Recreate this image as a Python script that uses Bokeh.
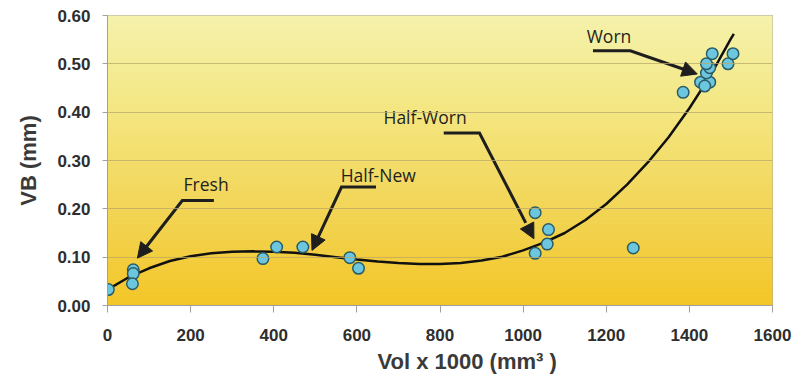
import numpy as np
from bokeh.plotting import figure
from bokeh.models import (Range1d, FixedTicker, PrintfTickFormatter, Arrow,
                          NormalHead, ColumnDataSource, Title)
from bokeh.core.properties import value
from bokeh.embed import file_html
from bokeh.resources import INLINE

# ---- data ----
vol = [2, 62, 62, 60, 374, 407, 470, 583, 604, 1029, 1061, 1058, 1029, 1265,
       1385, 1427, 1449, 1437, 1441, 1449, 1441, 1455, 1493, 1505]
vb = [0.033, 0.074, 0.066, 0.045, 0.097, 0.121, 0.121, 0.099, 0.077, 0.192,
      0.157, 0.127, 0.108, 0.119, 0.441, 0.462, 0.462, 0.454, 0.481, 0.492,
      0.500, 0.521, 0.500, 0.521]

# trend curve
trend_x = [0, 50, 100, 150, 200, 250, 300, 350, 400, 450, 500, 550, 600, 650,
           700, 750, 800, 850, 900, 950, 1000, 1050, 1100, 1150, 1200, 1250,
           1300, 1350, 1400, 1450, 1500, 1507]
trend_y = [0.033, 0.058, 0.077, 0.092, 0.102, 0.108, 0.111, 0.112, 0.111,
           0.109, 0.105, 0.100, 0.095, 0.091, 0.088, 0.086, 0.086, 0.088,
           0.093, 0.101, 0.114, 0.130, 0.150, 0.177, 0.210, 0.250, 0.296,
           0.348, 0.408, 0.475, 0.552, 0.562]

x_ticks = [0, 200, 400, 600, 800, 1000, 1200, 1400, 1600]
y_ticks = [0.0, 0.1, 0.2, 0.3, 0.4, 0.5, 0.6]
x_title = "Vol x 1000 (mm\u00b3 )"
y_title = "VB (mm)"

# annotations: label text, label anchor, arrow start, corner, tip
ann_text = ["Fresh", "Half-New", "Half-Worn", "Worn"]
ann_label_x = [183, 561, 664, 1153]
ann_label_y = [0.251, 0.269, 0.389, 0.557]
arr_start_x = [256, 646, 809, 1168]
arr_start_y = [0.217, 0.245, 0.357, 0.527]
arr_corner_x = [180, 563, 895, 1258]
arr_corner_y = [0.217, 0.245, 0.357, 0.527]
arr_tip_x = [72, 492, 1026, 1419]
arr_tip_y = [0.098, 0.114, 0.138, 0.479]

W, H = 799, 380
p = figure(width=W, height=H, output_backend="svg", toolbar_location=None,
           x_range=Range1d(0, 1600), y_range=Range1d(0, 0.6),
           min_border_left=107, min_border_right=27, min_border_top=15,
           min_border_bottom=75)
p.background_fill_color = "white"
p.border_fill_color = "white"
p.outline_line_color = "#a8a8a8"
p.outline_line_width = 1

# background vertical gradient (style only)
n = 145
edges = np.linspace(0, 0.6, n + 1)
stops_t = [0.0, 0.35, 0.7, 1.0]
stops_c = np.array([[243, 196, 34], [242, 213, 85], [243, 231, 130], [245, 241, 170]])
cols = []
for i in range(n):
    t = (i + 0.5) / n
    c = [np.interp(t, stops_t, stops_c[:, k]) for k in range(3)]
    cols.append("#%02x%02x%02x" % tuple(int(round(v)) for v in c))
p.quad(left=0, right=1600, bottom=edges[:-1], top=edges[1:], fill_color=cols,
       line_color=cols, line_width=0.6)

# grid
p.xgrid.grid_line_color = None
p.ygrid.ticker = FixedTicker(ticks=y_ticks)
p.ygrid.grid_line_color = "#b9a76a"
p.ygrid.grid_line_alpha = 0.75
p.ygrid.grid_line_width = 1
p.ygrid.level = "glyph"

# axes
p.xaxis.ticker = FixedTicker(ticks=x_ticks)
p.yaxis.ticker = FixedTicker(ticks=y_ticks)
p.yaxis.formatter = PrintfTickFormatter(format="%.2f")
for ax in (p.xaxis, p.yaxis):
    ax.axis_line_color = "#a0a0a0"
    ax.major_tick_line_color = "#a0a0a0"
    ax.minor_tick_line_color = None
    ax.major_tick_in = 0
    ax.major_label_text_font = "Liberation Sans"
    ax.major_label_text_font_style = "bold"
    ax.major_label_text_font_size = "17px"
    ax.major_label_text_color = "#2e2e2e"
p.xaxis.major_tick_out = 7
p.yaxis.major_tick_out = 5
p.xaxis.major_label_standoff = 16
p.yaxis.major_label_standoff = 12
p.yaxis.axis_label = y_title
p.yaxis.axis_label_text_font = "Liberation Sans"
p.yaxis.axis_label_text_font_style = "bold"
p.yaxis.axis_label_text_font_size = "22px"
p.yaxis.axis_label_text_color = "#3a3a3a"
p.yaxis.axis_label_standoff = 13

# x-axis title as a Title below the axis, offset to the right like the reference
p.add_layout(Title(text=x_title, align="left", offset=270, standoff=7,
                   text_font="Liberation Sans", text_font_style="bold",
                   text_font_size="22px", text_color="#3a3a3a"), "below")

# trend curve
p.line(trend_x, trend_y, line_color="#111111", line_width=2.5)

# arrows
xs, ys = [], []
for i in range(len(ann_text)):
    ex = arr_corner_x[i] + 0.85 * (arr_tip_x[i] - arr_corner_x[i])
    ey = arr_corner_y[i] + 0.85 * (arr_tip_y[i] - arr_corner_y[i])
    xs.append([arr_start_x[i], arr_corner_x[i], ex])
    ys.append([arr_start_y[i], arr_corner_y[i], ey])
    p.add_layout(Arrow(end=NormalHead(size=15, fill_color="#1e1e1e", line_color="#1e1e1e",
                                      line_width=1),
                       x_start=arr_corner_x[i], y_start=arr_corner_y[i],
                       x_end=arr_tip_x[i], y_end=arr_tip_y[i], line_alpha=0))
p.multi_line(xs, ys, line_color="#1e1e1e", line_width=3, line_join="miter")

# points
p.scatter(vol, vb, size=11.5, fill_color="#6cc6de", line_color="#2a5c68",
          line_width=1.5)

# annotation labels
src = ColumnDataSource(dict(x=ann_label_x, y=ann_label_y, t=ann_text))
p.text(x="x", y="y", text="t", source=src, text_font=value("Open Sans"),
       text_font_size="17.5px", text_color="#231f20", text_baseline="alphabetic",
       text_align="left")

open("out.html", "w").write(file_html(p, INLINE))
